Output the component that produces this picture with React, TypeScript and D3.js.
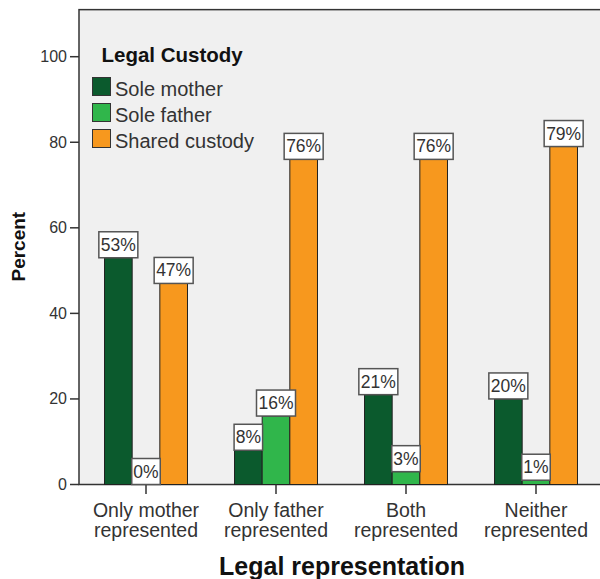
import React from "react";
import * as d3 from "d3";

// Legal representation groups along the x axis
const categories = ["Only mother|represented", "Only father|represented", "Both|represented", "Neither|represented"];
// Legal custody series
const seriesNames = ["Sole mother", "Sole father", "Shared custody"];
const seriesColors = ["#0b5a2d", "#30b64b", "#f7981e"];
// Percent values per series, one entry per category
const soleMother = [53, 8, 21, 20];
const soleFather = [0, 16, 3, 1];
const sharedCustody = [47, 76, 76, 79];
const yTicks = [0, 20, 40, 60, 80, 100];

const W = 600;
const H = 579;
const FONT = "Arial, 'Liberation Sans', sans-serif";

export default function App() {
  const series = [soleMother, soleFather, sharedCustody];
  const y = d3.scaleLinear().domain([0, 100]).range([484.5, 56.7]);
  const frameTop = y(111);
  const frameLeft = 79;
  const x = d3.scaleBand<string>().domain(categories).range([81, 601]).padding(0);
  const xs = d3
    .scaleBand<string>()
    .domain(seriesNames)
    .range([0, x.bandwidth()])
    .paddingInner(0)
    .paddingOuter(0.85);

  const labelBoxes: React.ReactNode[] = [];
  const bars: React.ReactNode[] = [];

  categories.forEach((c, ci) => {
    seriesNames.forEach((s, si) => {
      const v = series[si][ci];
      const bx = (x(c) as number) + (xs(s) as number);
      const bw = xs.bandwidth();
      const top = y(v);
      if (v > 0) {
        bars.push(
          <rect
            key={`b-${ci}-${si}`}
            x={bx}
            y={top}
            width={bw}
            height={y(0) - top}
            fill={seriesColors[si]}
            stroke="#222"
            strokeWidth={1}
          />
        );
      }
      const text = `${v}%`;
      const boxW = 7.5 + 10.5 * text.length;
      const boxH = 26;
      const cx = bx + bw / 2;
      labelBoxes.push(
        <g key={`l-${ci}-${si}`}>
          <rect
            x={cx - boxW / 2}
            y={top - boxH}
            width={boxW}
            height={boxH}
            fill="#ffffff"
            stroke="#555"
            strokeWidth={1.5}
          />
          <text
            x={cx}
            y={top - 7}
            textAnchor="middle"
            fontSize={17.5}
            fontFamily={FONT}
            fill="#333"
          >
            {text}
          </text>
        </g>
      );
    });
  });

  return (
    <svg
      width={W}
      height={H}
      style={{ position: "absolute", left: 0, top: 0, background: "#ffffff" }}
    >
      {/* plot frame */}
      <rect
        x={frameLeft}
        y={frameTop}
        width={W + 10 - frameLeft}
        height={y(0) - frameTop}
        fill="#f0f0f0"
        stroke="#333"
        strokeWidth={1.5}
      />

      {bars}

      {/* y axis ticks */}
      {yTicks.map((t) => (
        <g key={`yt-${t}`}>
          <line x1={70} x2={frameLeft} y1={y(t)} y2={y(t)} stroke="#333" strokeWidth={1.5} />
          <text
            x={67}
            y={y(t) + 5.5}
            textAnchor="end"
            fontSize={16}
            fontFamily={FONT}
            fill="#333"
          >
            {t}
          </text>
        </g>
      ))}

      {/* x axis ticks and labels */}
      {categories.map((c) => {
        const cx = (x(c) as number) + x.bandwidth() / 2;
        const lines = c.split("|");
        return (
          <g key={`xt-${c}`}>
            <line x1={cx} x2={cx} y1={y(0)} y2={494} stroke="#333" strokeWidth={1.5} />
            {lines.map((ln, i) => (
              <text
                key={i}
                x={cx}
                y={516.5 + i * 20.5}
                textAnchor="middle"
                fontSize={19.5}
                fontFamily={FONT}
                fill="#333"
              >
                {ln}
              </text>
            ))}
          </g>
        );
      })}

      {labelBoxes}

      {/* axis titles */}
      <text
        x={342}
        y={575}
        textAnchor="middle"
        fontSize={25}
        fontWeight="bold"
        fontFamily={FONT}
        fill="#111"
      >
        Legal representation
      </text>
      <text
        transform={`translate(25, ${246.7}) rotate(-90)`}
        textAnchor="middle"
        fontSize={19}
        fontWeight="bold"
        fontFamily={FONT}
        fill="#111"
      >
        Percent
      </text>

      {/* legend */}
      <text x={101.5} y={61.5} fontSize={20.5} fontWeight="bold" fontFamily={FONT} fill="#111">
        Legal Custody
      </text>
      {seriesNames.map((s, i) => (
        <g key={`lg-${s}`}>
          <rect
            x={92.5}
            y={77.5 + i * 26}
            width={18}
            height={18}
            fill={seriesColors[i]}
            stroke="#333"
            strokeWidth={1}
          />
          <text x={115} y={96 + i * 26} fontSize={20} fontFamily={FONT} fill="#333">
            {s}
          </text>
        </g>
      ))}
    </svg>
  );
}
